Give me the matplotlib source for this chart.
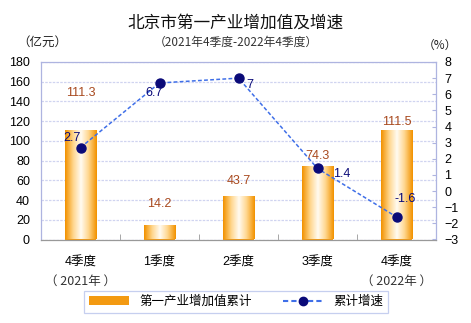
import numpy as np
import matplotlib
matplotlib.use('Agg')
import matplotlib.pyplot as plt
from matplotlib.colors import LinearSegmentedColormap
from matplotlib.patches import Patch
from matplotlib.lines import Line2D

plt.rcParams['font.family'] = ['Liberation Sans', 'Noto Sans CJK SC']
cjk = ['Noto Sans CJK SC', 'Liberation Sans']

quarters = ['4季度', '1季度', '2季度', '3季度', '4季度']
years = ['（ 2021年 ）', '', '', '', '（ 2022年 ）']
value_added = [111.3, 14.2, 43.7, 74.3, 111.5]   # 亿元
growth = [2.7, 6.7, 7.0, 1.4, -1.6]               # %
growth_labels = ['2.7', '6.7', '7', '1.4', '-1.6']

bar_color = '#F39A12'
line_color = '#3F6FE8'
marker_color = '#0A0A78'
label_brown = '#A8491E'

fig = plt.figure(figsize=(4.71, 3.23), dpi=100)
ax = fig.add_axes([41/471, 1 - 239.5/323, 395/471, 177.5/323])
ax2 = ax.twinx()

x = np.arange(len(quarters))
bars = ax.bar(x, value_added, width=0.4, color=bar_color, zorder=2)

# orange-white-orange gradient inside each bar
cmap = LinearSegmentedColormap.from_list('grad', ['#F29200', '#FFD58A', '#FFFBF2', '#FFD58A', '#F29200'])
grad = np.linspace(0, 1, 64).reshape(1, -1)
for b in bars:
    im = ax.imshow(grad, cmap=cmap, aspect='auto', zorder=2.5,
                   extent=(b.get_x(), b.get_x() + b.get_width(), 0, b.get_height()))
    im.set_clip_path(b)

ax.set_xlim(-0.5, 4.5)
ax.set_ylim(0, 180)
ax.set_yticks(np.arange(0, 181, 20))
ax.set_xticks(x)
ax.set_xticklabels(quarters, fontsize=9)
ax.set_xticks(np.arange(-0.5, 5, 1), minor=True)
ax.tick_params(axis='x', which='major', length=0, pad=12)
ax.tick_params(axis='x', which='minor', length=4, color='#999999', direction='in')
ax.tick_params(axis='y', length=0, labelsize=9, pad=8)
ax.grid(axis='y', color='#D0D4F0', linestyle=(0, (2, 1)), linewidth=0.9, zorder=0)
ax.set_axisbelow(True)
for s in ax.spines.values():
    s.set_color('#AEB4E0')
    s.set_linewidth(0.9)
ax.spines['bottom'].set_color('#999999')

for i, yl in enumerate(years):
    if yl:
        ax.text(i, -0.235, yl, transform=ax.get_xaxis_transform(), ha='center', va='center',
                fontsize=9, color='#333333', family=cjk)

# bar labels (offsets in points)
bar_offsets = [(0, 22), (0, 11), (0, 7), (0, 3), (0, 1)]
for i, v in enumerate(value_added):
    ax.annotate(f'{v:.1f}', (x[i], v), xytext=bar_offsets[i], textcoords='offset points',
                ha='center', va='bottom', fontsize=9, color=label_brown, zorder=5)

ax2.plot(x, growth, color=line_color, linestyle=(0, (2.5, 1.5)), linewidth=1.1,
         marker='o', markersize=6.5, markerfacecolor=marker_color, markeredgecolor=marker_color, zorder=4)
ax2.set_ylim(-3, 8)
ax2.set_yticks(np.arange(-3, 9, 1))
ax2.tick_params(axis='y', length=3, direction='in', color='#AEB4E0', labelsize=9, pad=6)
for s in ax2.spines.values():
    s.set_visible(False)

line_offsets = [(-6, 7, 'center', 'center'), (-4, -7, 'center', 'center'), (6, -5, 'left', 'center'),
                (11, -4, 'left', 'center'), (6, 13, 'center', 'center')]
for i, g in enumerate(growth):
    dx, dy, ha, va = line_offsets[i]
    ax2.annotate(growth_labels[i], (x[i], g), xytext=(dx, dy), textcoords='offset points',
                 ha=ha, va=va, fontsize=9, color=marker_color, zorder=5)

fig.text(0.5, 1 - 23/323, '北京市第一产业增加值及增速', ha='center', va='center', fontsize=12,
         color='#111111', family=cjk)
fig.text(0.5, 1 - 42/323, '（2021年4季度-2022年4季度）', ha='center', va='center', fontsize=8.5,
         color='#333333', family=cjk)
fig.text(42/471, 1 - 42/323, '（亿元）', ha='center', va='center', fontsize=9, color='#222222', family=cjk)
fig.text(440/471, 1 - 45/323, '（%）', ha='center', va='center', fontsize=8.5, color='#222222', family=cjk)

handles = [Patch(facecolor=bar_color, edgecolor='none'),
           Line2D([0], [0], color=line_color, linestyle=(0, (2.5, 1.5)), marker='o', markersize=6,
                  markerfacecolor=marker_color, markeredgecolor=marker_color)]
leg = fig.legend(handles, ['第一产业增加值累计', '累计增速'], loc='center', ncol=2,
                 bbox_to_anchor=(236/471, 1 - 302/323), fontsize=9, frameon=True, fancybox=False,
                 handlelength=3.2, columnspacing=2.5, borderpad=0.4)
leg.get_frame().set_edgecolor('#B8C4EC')
leg.get_frame().set_linewidth(0.9)

fig.savefig('out.png', dpi=100)
